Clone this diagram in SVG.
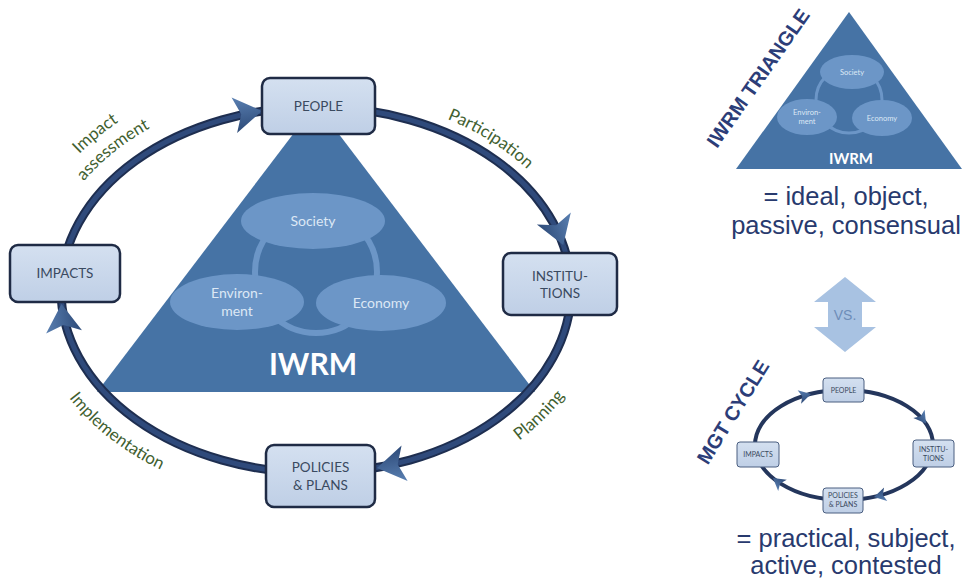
<svg xmlns="http://www.w3.org/2000/svg" width="963" height="579" viewBox="0 0 963 579">
<defs>
<linearGradient id="boxGrad" x1="0" y1="0" x2="0" y2="1"><stop offset="0" stop-color="#d4e0f0"/><stop offset="1" stop-color="#bfcfe6"/></linearGradient>
<linearGradient id="headGrad" x1="0" y1="0" x2="0" y2="1"><stop offset="0" stop-color="#5a80b2"/><stop offset="1" stop-color="#2d4a78"/></linearGradient>
<path id="head" d="M0,0 L-28,-18 L-21,0 L-28,18 Z"/>
<path id="headS" d="M0,0 L-12,-7 L-9,0 L-12,7 Z"/>
<path id="pImpact" d="M40.4,206.1 A297,225 0 0 1 176.1,91.5"/>
<path id="pAssess" d="M60.9,214.3 A275,203 0 0 1 186.5,110.9"/>
<path id="pPart" d="M413.4,107.4 A268,196 0 0 1 551.1,195.9"/>
<path id="pPlan" d="M492.9,458.2 A286,214 0 0 0 581.6,369.5"/>
<path id="pImpl" d="M49,366.7 A286,214 0 0 0 195.1,484"/>
</defs>
<style>
.tri{fill:#4673a5}
.ell{fill:#6c96c7}
.ring{fill:none;stroke:#6c96c7;stroke-width:6}
.ringS{fill:none;stroke:#6c96c7;stroke-width:3}
.box{fill:url(#boxGrad);stroke:#1f2b45;stroke-width:2.5}
.boxS{fill:url(#boxGrad);stroke:#4a5e80;stroke-width:1}
.bt{font-family:Lato,"Liberation Sans",sans-serif;font-size:13.5px;fill:#3a4a60;text-anchor:middle}
.bts{font-family:Lato,"Liberation Sans",sans-serif;font-size:7px;fill:#3a4a60;text-anchor:middle}
.et{font-family:Lato,"Liberation Sans",sans-serif;font-size:14px;fill:#dce8f5;text-anchor:middle}
.ets{font-family:Lato,"Liberation Sans",sans-serif;font-size:7.5px;fill:#dce8f5;text-anchor:middle}
.lbl{font-family:Lato,"Liberation Sans",sans-serif;font-size:17px;fill:#41602f;text-anchor:middle}
.outer{fill:none;stroke:#1e2e50;stroke-width:9}
.inner{fill:none;stroke:#2f4a7b;stroke-width:5}
.outerS{fill:none;stroke:#24365c;stroke-width:4}
.ah{fill:url(#headGrad)}
.title{font-family:"Liberation Sans",sans-serif;font-weight:bold;font-size:20px;fill:#2c3d78;text-anchor:middle}
.desc{font-family:"Liberation Sans",sans-serif;font-size:25.5px;fill:#283a6e;text-anchor:middle}
.iw{font-family:Lato,"Liberation Sans",sans-serif;font-weight:bold;fill:#ffffff;text-anchor:middle}
</style>
<rect width="963" height="579" fill="#ffffff"/>

<!-- main IWRM triangle -->
<g id="iwrm-triangle">
<polygon class="tri" points="316,104 535,392 97,392"/>
<circle class="ring" cx="316" cy="272" r="61"/>
<ellipse class="ell" cx="313" cy="221" rx="72" ry="28"/>
<ellipse class="ell" cx="237" cy="302" rx="67" ry="28"/>
<ellipse class="ell" cx="381" cy="303" rx="65" ry="28"/>
<text class="et" x="313" y="226">Society</text>
<text class="et" x="237" y="298">Environ-</text>
<text class="et" x="237" y="316">ment</text>
<text class="et" x="381" y="308">Economy</text>
<text class="iw" x="313" y="375" font-size="30">IWRM</text>
</g>

<!-- main cycle connectors -->
<g id="connectors">
<path class="outer" d="M61,290 A255,183 0 0 1 316,107"/>
<path class="outer" d="M316,107 A255,183 0 0 1 571,290"/>
<path class="outer" d="M571,290 A255,183 0 0 1 316,473"/>
<path class="outer" d="M316,473 A255,183 0 0 1 61,290"/>
<path class="inner" d="M61,290 A255,183 0 0 1 316,107"/>
<path class="inner" d="M316,107 A255,183 0 0 1 571,290"/>
<path class="inner" d="M571,290 A255,183 0 0 1 316,473"/>
<path class="inner" d="M316,473 A255,183 0 0 1 61,290"/>
<use href="#head" class="ah" transform="translate(262,111) rotate(-8.85)"/>
<use href="#head" class="ah" transform="translate(563.2,245) rotate(70.5)"/>
<use href="#head" class="ah" transform="translate(377,468) rotate(170.3)"/>
<use href="#head" class="ah" transform="translate(61.5,304) rotate(-95.2)"/>
<text class="lbl"><textPath href="#pImpact" startOffset="50%">Impact</textPath></text>
<text class="lbl"><textPath href="#pAssess" startOffset="50%">assessment</textPath></text>
<text class="lbl"><textPath href="#pPart" startOffset="50%">Participation</textPath></text>
<text class="lbl"><textPath href="#pPlan" startOffset="50%">Planning</textPath></text>
<text class="lbl"><textPath href="#pImpl" startOffset="50%">Implementation</textPath></text>
</g>

<g id="people">
<rect class="box" x="262" y="78" width="113" height="56" rx="8"/>
<text class="bt" x="318.5" y="111">PEOPLE</text>
</g>
<g id="impacts">
<rect class="box" x="10" y="245" width="110" height="57" rx="8"/>
<text class="bt" x="65" y="278">IMPACTS</text>
</g>
<g id="institutions">
<rect class="box" x="503" y="253" width="114" height="62" rx="8"/>
<text class="bt" x="560" y="281">INSTITU-</text>
<text class="bt" x="560" y="298">TIONS</text>
</g>
<g id="policies">
<rect class="box" x="266" y="445" width="109" height="62" rx="8"/>
<text class="bt" x="320.5" y="472">POLICIES</text>
<text class="bt" x="320.5" y="490">&amp; PLANS</text>
</g>

<!-- right: small IWRM triangle -->
<g id="small-triangle">
<text class="title" transform="translate(758,78) rotate(-55)" y="7">IWRM TRIANGLE</text>
<polygon class="tri" points="849,12 962,169 736,169"/>
<circle class="ringS" cx="849" cy="100" r="33"/>
<ellipse class="ell" cx="852" cy="72" rx="32" ry="17"/>
<ellipse class="ell" cx="807" cy="117" rx="30" ry="18"/>
<ellipse class="ell" cx="882" cy="118" rx="30" ry="18"/>
<text class="ets" x="852" y="75">Society</text>
<text class="ets" x="807" y="115">Environ-</text>
<text class="ets" x="807" y="124">ment</text>
<text class="ets" x="882" y="121">Economy</text>
<text class="iw" x="851" y="164" font-size="15">IWRM</text>
<text class="desc" x="846" y="205">= ideal, object,</text>
<text class="desc" x="846" y="234">passive, consensual</text>
</g>

<!-- VS double arrow -->
<g id="vs">
<polygon fill="#a8c2e2" points="845,277 876,302 862,302 862,327 876,327 845,352 814,327 828,327 828,302 814,302"/>
<text x="845" y="320" font-family="Liberation Sans, sans-serif" font-size="14" fill="#6e8db8" text-anchor="middle">VS.</text>
</g>

<!-- right: small management cycle -->
<g id="small-cycle-connectors">
<path class="outerS" d="M755,445 A89,55 0 0 1 844,390"/>
<path class="outerS" d="M844,390 A89,55 0 0 1 933,445"/>
<path class="outerS" d="M933,445 A89,55 0 0 1 844,500"/>
<path class="outerS" d="M844,500 A89,55 0 0 1 755,445"/>
<use href="#headS" class="ah" transform="translate(811,394) rotate(-14.3)"/>
<use href="#headS" class="ah" transform="translate(926,423.5) rotate(54.1)"/>
<use href="#headS" class="ah" transform="translate(874,497) rotate(166.7)"/>
<use href="#headS" class="ah" transform="translate(773,478) rotate(-142.2)"/>
</g>
<g id="small-cycle">
<text class="title" transform="translate(733,412) rotate(-58)" y="7">MGT CYCLE</text>
<g id="s-people"><rect class="boxS" x="823" y="378" width="41" height="24" rx="3"/><text class="bts" x="843.5" y="392.5">PEOPLE</text></g>
<g id="s-institutions"><rect class="boxS" x="913" y="440" width="41" height="27" rx="3"/><text class="bts" x="933.5" y="452">INSTITU-</text><text class="bts" x="933.5" y="461">TIONS</text></g>
<g id="s-policies"><rect class="boxS" x="823" y="488" width="40" height="25" rx="3"/><text class="bts" x="843" y="498">POLICIES</text><text class="bts" x="843" y="507">&amp; PLANS</text></g>
<g id="s-impacts"><rect class="boxS" x="737" y="442" width="42" height="25" rx="3"/><text class="bts" x="758" y="457">IMPACTS</text></g>
<text class="desc" x="846" y="547">= practical, subject,</text>
<text class="desc" x="846" y="574">active, contested</text>
</g>
</svg>
